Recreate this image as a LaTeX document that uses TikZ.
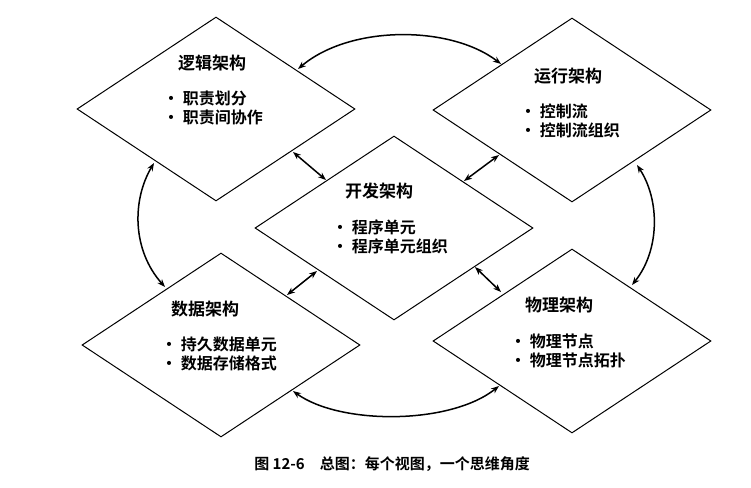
\documentclass[tikz,border=0pt]{standalone}
\usepackage{fontspec}
\setmainfont{Noto Sans CJK SC}[BoldFont={* Bold}]
\usetikzlibrary{shapes.geometric,arrows.meta}
\begin{document}
\begin{tikzpicture}[x=1pt,y=-1pt,
  dia/.style={draw,line width=1pt,diamond,minimum width=278pt,minimum height=184pt,inner sep=0pt},
  ttl/.style={anchor=west,font=\bfseries\fontsize{17}{19}\selectfont,inner sep=0pt},
  blt/.style={anchor=west,font=\bfseries\fontsize{16}{18.5}\selectfont,inner sep=0pt,align=left},
  arr/.style={line width=1.5pt,{Stealth[length=8pt,width=6pt]}-{Stealth[length=8pt,width=6pt]}}]
\useasboundingbox (0,0) rectangle (751,487);
\node[dia] (log) at (216,109) {};
\node[dia] (run) at (572,110) {};
\node[dia] (dev) at (394,228) {};
\node[dia] (dat) at (221,345) {};
\node[dia] (phy) at (572,341) {};
\node[ttl] (t1) at (178,63) {逻辑架构};
\node[blt] (b1) at (163,108) {• 职责划分\\• 职责间协作};
\node[ttl] (t2) at (534,76) {运行架构};
\node[blt] (b2) at (520,121) {• 控制流\\• 控制流组织};
\node[ttl] (t3) at (345,191) {开发架构};
\node[blt] (b3) at (332,237) {• 程序单元\\• 程序单元组织};
\node[ttl] (t4) at (171,309) {数据架构};
\node[blt] (b4) at (161,354) {• 持久数据单元\\• 数据存储格式};
\node[ttl] (t5) at (525,305) {物理架构};
\node[blt] (b5) at (510,351) {• 物理节点\\• 物理节点拓扑};
\coordinate (a1) at (298,69); \coordinate (a2) at (501,64);
\coordinate (c1) at (637,165); \coordinate (c2) at (632,285);
\coordinate (d1) at (499,386); \coordinate (d2) at (293,391);
\coordinate (e1) at (165,287); \coordinate (e2) at (154,163);
\coordinate (s1) at (293,152); \coordinate (s2) at (326,180);
\coordinate (r1) at (499,155); \coordinate (r2) at (464,181);
\coordinate (p1) at (317,271); \coordinate (p2) at (287,295);
\coordinate (q1) at (475,267); \coordinate (q2) at (501,292);
\draw[arr] (a1) .. controls (350,25) and (450,25) .. (a2);
\draw[arr] (c1) .. controls (660,200) and (660,250) .. (c2);
\draw[arr] (d1) .. controls (450,425) and (340,425) .. (d2);
\draw[arr] (e1) .. controls (132,250) and (132,200) .. (e2);
\draw[arr] (s1) -- (s2);
\draw[arr] (r1) -- (r2);
\draw[arr] (p1) -- (p2);
\draw[arr] (q1) -- (q2);
\node[font=\bfseries\fontsize{15}{17}\selectfont] (cap) at (392,464) {图 12-6\quad 总图：每个视图，一个思维角度};
\end{tikzpicture}
\end{document}
